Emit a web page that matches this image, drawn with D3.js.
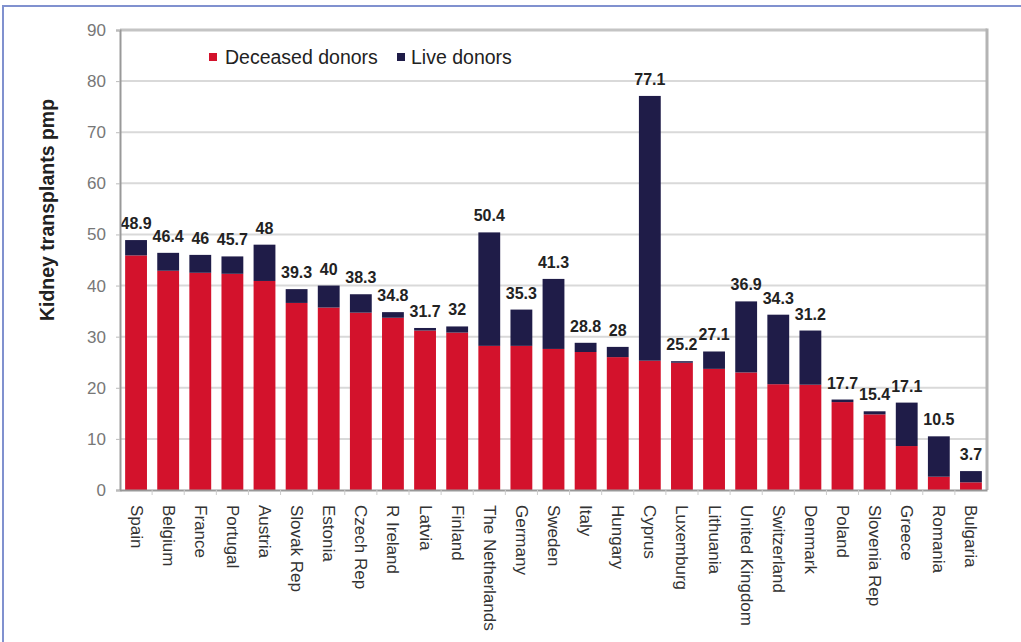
<!DOCTYPE html>
<html>
<head>
<meta charset="utf-8">
<script src="https://cdn.jsdelivr.net/npm/d3@7"></script>
<style>
  body { margin: 0; background: #fff; }
  svg { display: block; font-family: "Liberation Sans", Arial, sans-serif; }
</style>
</head>
<body>
<svg id="chart" width="1021" height="642"></svg>
<script>
// Kidney transplants per million population, by donor type
const countries = ["Spain", "Belgium", "France", "Portugal", "Austria", "Slovak Rep", "Estonia",
    "Czech Rep", "R Ireland", "Latvia", "Finland", "The Netherlands", "Germany", "Sweden", "Italy",
    "Hungary", "Cyprus", "Luxemburg", "Lithuania", "United Kingdom", "Switzerland", "Denmark",
    "Poland", "Slovenia Rep", "Greece", "Romania", "Bulgaria"];
const totals = [48.9, 46.4, 46, 45.7, 48, 39.3, 40, 38.3, 34.8, 31.7, 32, 50.4, 35.3, 41.3, 28.8,
    28, 77.1, 25.2, 27.1, 36.9, 34.3, 31.2, 17.7, 15.4, 17.1, 10.5, 3.7];
const deceased = [45.9, 42.9, 42.5, 42.3, 40.9, 36.6, 35.7, 34.7, 33.7, 31.2, 30.8, 28.2, 28.2,
    27.6, 27.0, 26.0, 25.3, 24.9, 23.7, 23.0, 20.7, 20.6, 17.2, 14.8, 8.6, 2.6, 1.5];
const totalLabels = ["48.9", "46.4", "46", "45.7", "48", "39.3", "40", "38.3", "34.8", "31.7",
    "32", "50.4", "35.3", "41.3", "28.8", "28", "77.1", "25.2", "27.1", "36.9", "34.3", "31.2",
    "17.7", "15.4", "17.1", "10.5", "3.7"];
const yTicks = [0, 10, 20, 30, 40, 50, 60, 70, 80, 90];
const seriesNames = ["Deceased donors", "Live donors"];
const colors = ["#d3122c", "#1f1c48"];

const svg = d3.select("#chart");

// outer frame
svg.append("rect")
    .attr("x", 3).attr("y", 6)
    .attr("width", 1030).attr("height", 650)
    .attr("fill", "none")
    .attr("stroke", "#8091cf")
    .attr("stroke-width", 2);

const plot = { left: 120, right: 987, top: 30, bottom: 490 };

const x = d3.scaleBand()
    .domain(countries)
    .range([plot.left, plot.right])
    .paddingInner(0.32)
    .paddingOuter(0.16);

const y = d3.scaleLinear()
    .domain([0, 90])
    .range([plot.bottom, plot.top]);

// gridlines
svg.append("g")
    .selectAll("line")
    .data(yTicks.slice(1, -1))
    .join("line")
    .attr("x1", plot.left).attr("x2", plot.right)
    .attr("y1", d => y(d)).attr("y2", d => y(d))
    .attr("stroke", "#d9d9d9")
    .attr("stroke-width", 2);

// top and right frame of the plot area
svg.append("line")
    .attr("x1", plot.left).attr("x2", plot.right)
    .attr("y1", y(90)).attr("y2", y(90))
    .attr("stroke", "#c4c4c4").attr("stroke-width", 3);
svg.append("line")
    .attr("x1", plot.right).attr("x2", plot.right)
    .attr("y1", y(90) - 1.5).attr("y2", plot.bottom)
    .attr("stroke", "#b4b4b4").attr("stroke-width", 3);

// stacked bars
const rows = countries.map((c, i) => ({
    country: c,
    "Deceased donors": deceased[i],
    "Live donors": +(totals[i] - deceased[i]).toFixed(1)
}));
const stacked = d3.stack().keys(seriesNames)(rows);

svg.append("g")
    .selectAll("g")
    .data(stacked)
    .join("g")
    .attr("fill", (d, i) => colors[i])
    .selectAll("rect")
    .data(d => d)
    .join("rect")
    .attr("x", d => x(d.data.country))
    .attr("width", x.bandwidth())
    .attr("y", d => y(d[1]))
    .attr("height", d => y(d[0]) - y(d[1]));

// total labels
svg.append("g")
    .selectAll("text")
    .data(countries)
    .join("text")
    .attr("x", d => x(d) + x.bandwidth() / 2)
    .attr("y", (d, i) => y(totals[i]) - 11)
    .attr("text-anchor", "middle")
    .attr("font-size", 16)
    .attr("font-weight", "bold")
    .attr("fill", "#222")
    .text((d, i) => totalLabels[i]);

// y axis
const yAxis = svg.append("g")
    .attr("transform", `translate(${plot.left},0)`)
    .call(d3.axisLeft(y).tickValues(yTicks).tickSize(4).tickPadding(10));
yAxis.select(".domain").attr("stroke", "#999").attr("stroke-width", 2);
yAxis.selectAll(".tick line").attr("stroke", "#bbb");
yAxis.selectAll(".tick text")
    .attr("font-size", 17)
    .attr("font-family", "Liberation Sans, Arial, sans-serif")
    .attr("fill", "#777");

// x axis
const xAxis = svg.append("g")
    .attr("transform", `translate(0,${plot.bottom})`)
    .call(d3.axisBottom(x).tickSize(0).tickPadding(0));
xAxis.select(".domain").attr("stroke", "#999").attr("stroke-width", 2);
xAxis.selectAll(".tick text")
    .attr("font-size", 17)
    .attr("font-family", "Liberation Sans, Arial, sans-serif")
    .attr("fill", "#333")
    .attr("text-anchor", "start")
    .attr("dy", null)
    .attr("dominant-baseline", "central")
    .attr("transform", "translate(0,15) rotate(90)")
    .attr("y", 0)
    .attr("x", 0);

// small separators between categories
svg.append("g")
    .selectAll("line")
    .data(countries.slice(1))
    .join("line")
    .attr("x1", d => x(d) - x.step() * x.paddingInner() / 2)
    .attr("x2", d => x(d) - x.step() * x.paddingInner() / 2)
    .attr("y1", plot.bottom).attr("y2", plot.bottom + 5)
    .attr("stroke", "#ccc");

// y axis title
svg.append("text")
    .attr("transform", "translate(47,210) rotate(-90)")
    .attr("text-anchor", "middle")
    .attr("dominant-baseline", "central")
    .attr("font-size", 19.5)
    .attr("font-weight", "bold")
    .attr("fill", "#222")
    .text("Kidney transplants pmp");

// legend
const legendPos = [{ x: 209, tx: 225 }, { x: 397, tx: 411 }];
const legend = svg.append("g")
    .selectAll("g")
    .data(seriesNames)
    .join("g")
    .attr("transform", "translate(0,57)");
legend.append("rect")
    .attr("x", (d, i) => legendPos[i].x)
    .attr("y", -4)
    .attr("width", 8).attr("height", 8)
    .attr("fill", (d, i) => colors[i]);
legend.append("text")
    .attr("x", (d, i) => legendPos[i].tx)
    .attr("dominant-baseline", "central")
    .attr("font-size", 19.5)
    .attr("fill", "#222")
    .text(d => d);
</script>
</body>
</html>
